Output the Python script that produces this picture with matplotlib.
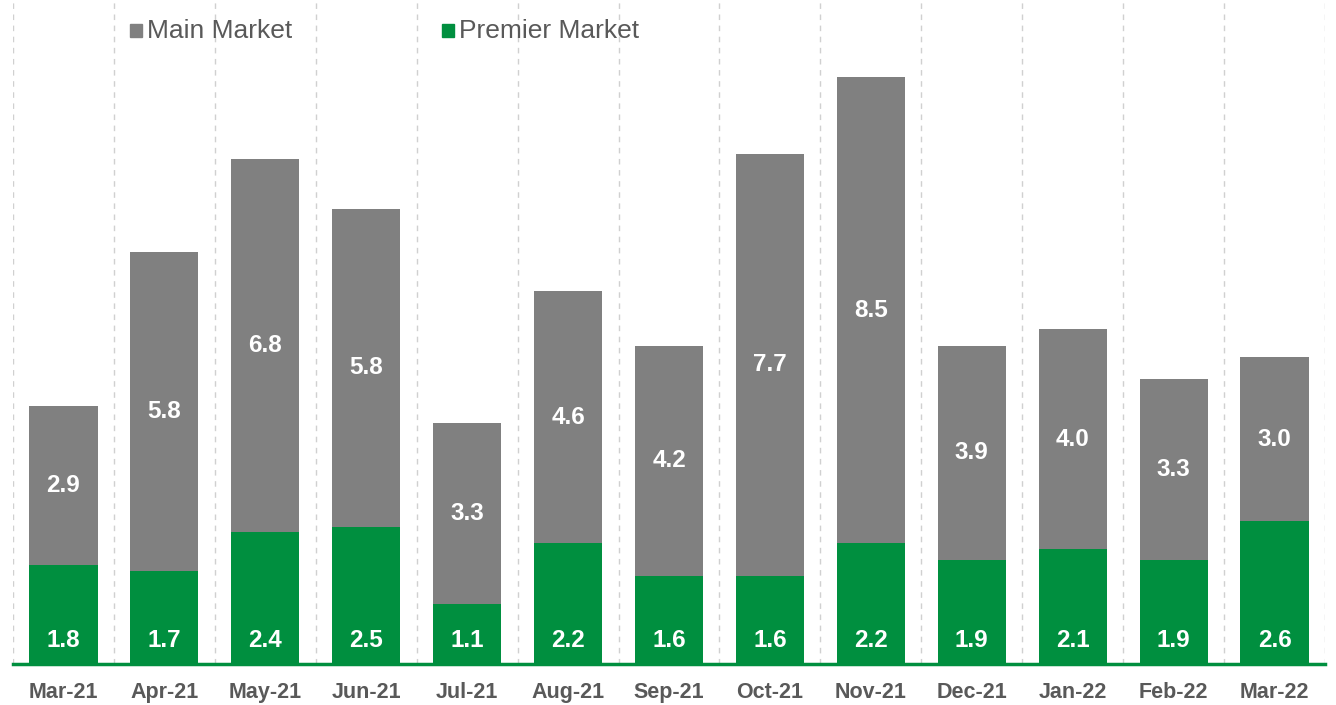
import matplotlib
matplotlib.use("Agg")
import matplotlib.pyplot as plt
from matplotlib.patches import Rectangle

months = ["Mar-21", "Apr-21", "May-21", "Jun-21", "Jul-21", "Aug-21", "Sep-21",
          "Oct-21", "Nov-21", "Dec-21", "Jan-22", "Feb-22", "Mar-22"]
premier = [1.8, 1.7, 2.4, 2.5, 1.1, 2.2, 1.6, 1.6, 2.2, 1.9, 2.1, 1.9, 2.6]
main = [2.9, 5.8, 6.8, 5.8, 3.3, 4.6, 4.2, 7.7, 8.5, 3.9, 4.0, 3.3, 3.0]

GREEN = "#008F3F"
GRAY = "#808080"
TXT = "#595959"

plt.rcParams['font.family'] = ['Liberation Sans', 'DejaVu Sans']

W, H = 1336, 705
fig = plt.figure(figsize=(W / 100, H / 100), dpi=100)
ax = fig.add_axes([13 / W, (H - 664) / H, (1325 - 13) / W, 664 / H])

x = list(range(len(months)))
bw = 0.675
ax.bar(x, premier, width=bw, color=GREEN, zorder=3)
ax.bar(x, main, width=bw, bottom=premier, color=GRAY, zorder=3)

for i in x:
    ax.text(i, 0.42, f"{premier[i]:.1f}", ha="center", va="center",
            color="white", fontsize=17.5, fontweight="bold", zorder=4)
    ax.text(i, premier[i] + main[i] / 2, f"{main[i]:.1f}", ha="center", va="center",
            color="white", fontsize=17.5, fontweight="bold", zorder=4)

ax.set_xlim(-0.5, len(months) - 0.5)
ax.set_ylim(0, 12.1)
for b in [i - 0.5 for i in range(len(months) + 1)]:
    ax.axvline(b, color="#d0d0d0", lw=1, ls=(0, (4, 4)), zorder=1)
ax.axhline(0, color=GREEN, lw=2.5, zorder=5, clip_on=False)

for s in ax.spines.values():
    s.set_visible(False)
ax.set_yticks([])
ax.set_xticks(x)
ax.set_xticklabels(months, fontsize=15.5, fontweight="bold", color=TXT)
ax.tick_params(axis="x", length=0, pad=13)

# legend
def legend_item(px, label, color):
    fig.patches.append(Rectangle((px / W, (H - 37) / H), 12 / W, 13 / H,
                                 transform=fig.transFigure, color=color))
    fig.text((px + 17) / W, (H - 31) / H, label, ha="left", va="center",
             fontsize=19, color=TXT)

legend_item(130, "Main Market", GRAY)
legend_item(442, "Premier Market", GREEN)

fig.savefig("out.png", dpi=100)
